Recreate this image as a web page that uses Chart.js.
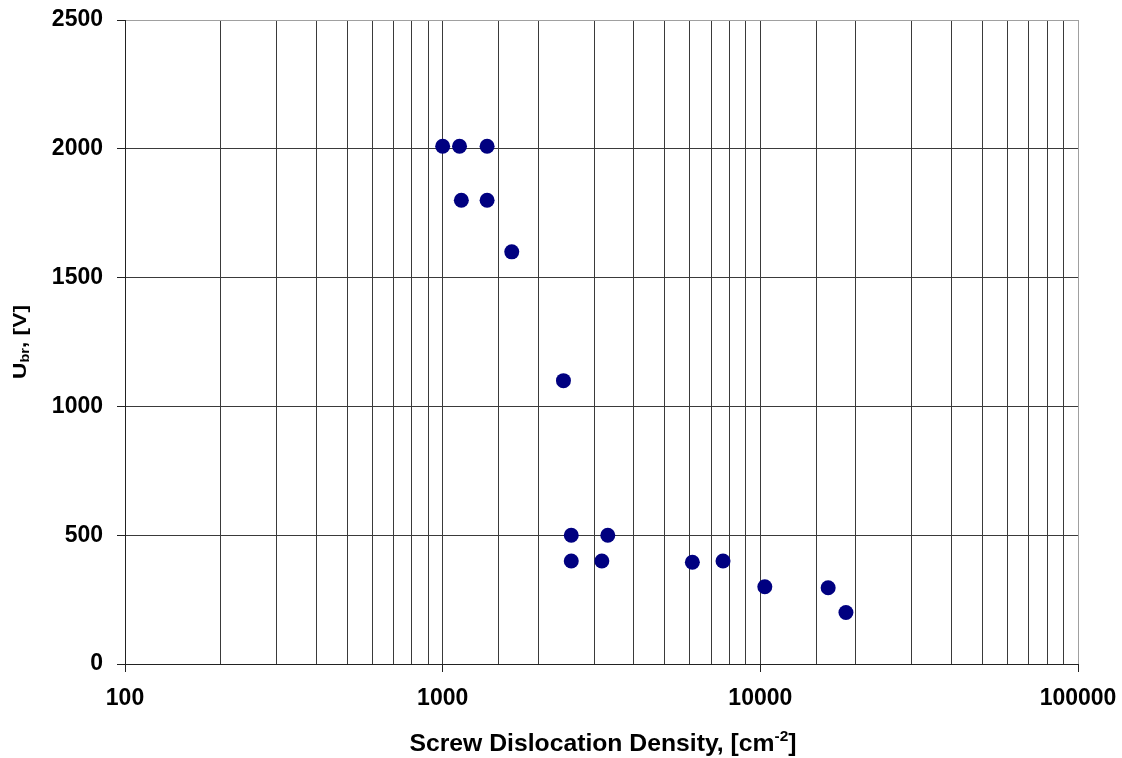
<!DOCTYPE html>
<html>
<head>
<meta charset="utf-8">
<script src="https://cdn.jsdelivr.net/npm/chart.js@4.4.1/dist/chart.umd.min.js"></script>
<style>
  html, body { margin: 0; padding: 0; background: #ffffff; }
  #wrap { width: 1122px; height: 758px; position: relative; }
</style>
</head>
<body>
<div id="wrap"><canvas id="chart" width="1122" height="758"></canvas></div>
<script>
// Screw dislocation density (cm^-2) vs. breakdown voltage Ubr (V)
const densityValues = [1000, 1130, 1380, 1145, 1380, 1650, 2400, 2540, 3310, 2540, 3170, 6110, 7630, 10330, 16350, 18600];
const ubrValues     = [2010, 2010, 2010, 1800, 1800, 1600, 1100, 500,  500,  400,  400,  395,  400,  300,   296,   200];

const xMajorTicks = [100, 1000, 10000, 100000];
const yTickStep = 500;
const xRange = [100, 100000];
const yRange = [0, 2500];

const points = densityValues.map((d, i) => ({ x: d, y: ubrValues[i] }));

const FONT = '"Liberation Sans", Arial, sans-serif';
const GRID = '#3a3a3a';
const EDGE = '#a0a0a0';

function isMajor(v) {
  return xMajorTicks.some(m => Math.abs(m - v) < 1e-6);
}

// Draws a run of [text, font, baselineShift] pieces, stretched to a given length
function drawRuns(ctx, runs, centerX, baseY, targetLen) {
  let natural = 0;
  runs.forEach(r => { ctx.font = r[1]; natural += ctx.measureText(r[0]).width; });
  const sx = targetLen / natural;
  ctx.save();
  ctx.translate(centerX, baseY);
  ctx.scale(sx, 1);
  let x = -natural / 2;
  runs.forEach(r => {
    ctx.font = r[1];
    ctx.fillText(r[0], x, r[2]);
    x += ctx.measureText(r[0]).width;
  });
  ctx.restore();
}

// Axis titles with sub/superscripts
const axisTitles = {
  id: 'axisTitles',
  afterDraw(chart) {
    const ctx = chart.ctx;
    ctx.save();
    ctx.fillStyle = '#000';
    ctx.textBaseline = 'alphabetic';
    ctx.textAlign = 'left';

    const xBig = 'bold 24px ' + FONT;
    const xSmall = 'bold 15px ' + FONT;
    drawRuns(ctx, [
      ['Screw Dislocation Density, [cm', xBig, 0],
      ['-2', xSmall, -10],
      [']', xBig, 0]
    ], 603, 751, 387);

    const yBig = 'bold 19px ' + FONT;
    const ySmall = 'bold 12px ' + FONT;
    ctx.save();
    ctx.translate(26, 342);
    ctx.rotate(-Math.PI / 2);
    drawRuns(ctx, [
      ['U', yBig, 0],
      ['br', ySmall, 3],
      [', [V]', yBig, 0]
    ], 0, 0, 74);
    ctx.restore();
    ctx.restore();
  }
};

new Chart(document.getElementById('chart'), {
  type: 'scatter',
  data: {
    datasets: [{
      data: points,
      backgroundColor: '#000080',
      borderColor: '#000080',
      borderWidth: 0,
      pointRadius: 7.5,
      pointHoverRadius: 7.5
    }]
  },
  options: {
    responsive: false,
    animation: false,
    devicePixelRatio: 1,
    layout: { padding: { top: 20, right: 44, left: 0, bottom: 0 } },
    plugins: { legend: { display: false }, tooltip: { enabled: false } },
    scales: {
      x: {
        type: 'logarithmic',
        min: xRange[0],
        max: xRange[1],
        afterFit(scale) {
          scale.height = 94;
          scale.paddingLeft = 0;
          scale.paddingRight = 0;
        },
        border: { display: true, color: '#222', width: 1 },
        grid: {
          color: ctx => (ctx.tick && ctx.tick.value === xRange[1]) ? EDGE : GRID,
          tickColor: ctx => (ctx.tick && isMajor(ctx.tick.value)) ? '#222' : 'rgba(0,0,0,0)',
          tickLength: 8,
          lineWidth: 1
        },
        ticks: {
          autoSkip: false,
          maxRotation: 0,
          minRotation: 0,
          padding: 13,
          color: '#000',
          font: { family: FONT, size: 23, weight: 'bold' },
          callback: v => isMajor(v) ? String(v) : ''
        }
      },
      y: {
        type: 'linear',
        min: yRange[0],
        max: yRange[1],
        afterFit(scale) {
          scale.width = 125;
          scale.paddingTop = 0;
          scale.paddingBottom = 0;
        },
        border: { display: true, color: '#222', width: 1 },
        grid: {
          color: ctx => (ctx.tick && ctx.tick.value === yRange[1]) ? EDGE : GRID,
          tickColor: '#222',
          tickLength: 8,
          lineWidth: 1
        },
        ticks: {
          stepSize: yTickStep,
          padding: 14,
          color: '#000',
          font: { family: FONT, size: 23, weight: 'bold' },
          callback: v => String(v)
        }
      }
    }
  },
  plugins: [axisTitles]
});
</script>
</body>
</html>
